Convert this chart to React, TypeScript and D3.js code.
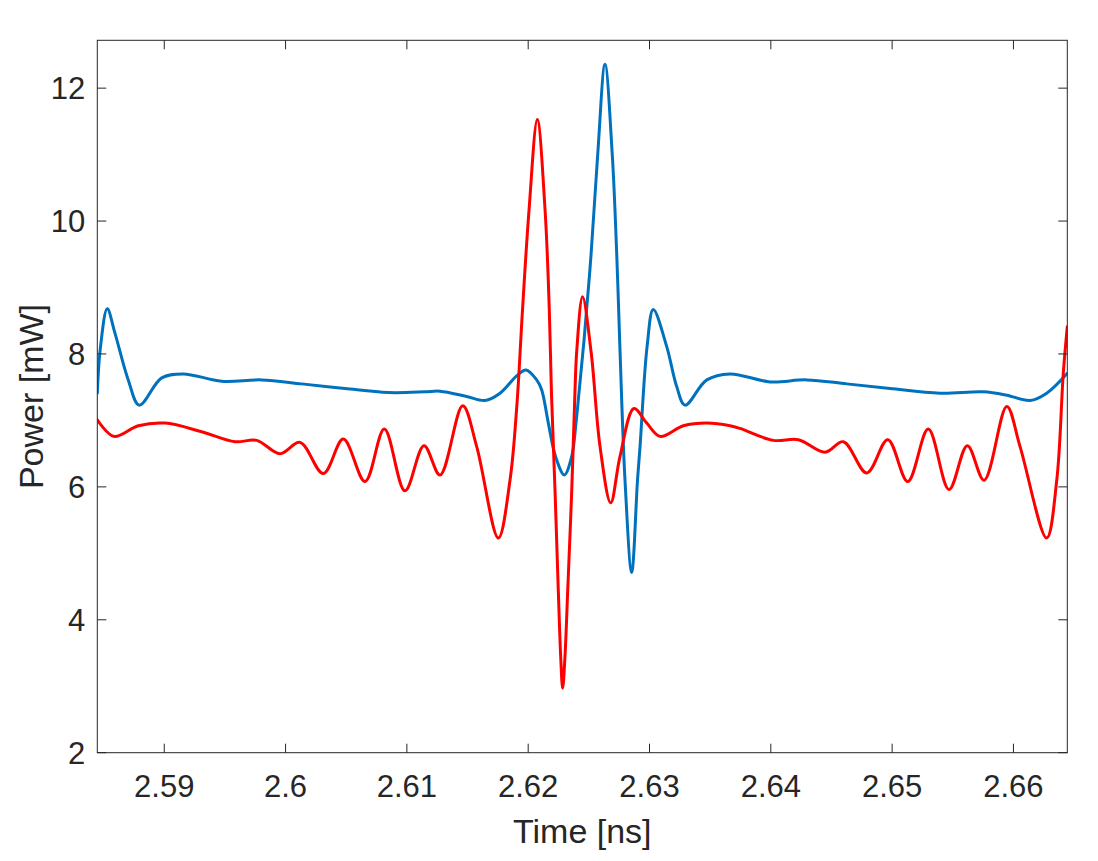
import * as d3 from 'd3';

// time axis [ns] and power [mW]
const timeDomain = [2.58448, 2.66444];
const powerDomain = [2, 12.72];
const timeTicks = [2.59, 2.6, 2.61, 2.62, 2.63, 2.64, 2.65, 2.66];
const powerTicks = [2, 4, 6, 8, 10, 12];

const blueT = [
  2.58448, 2.58474, 2.5853, 2.58594, 2.58703, 2.58794, 2.58979, 2.59157, 2.59473, 2.59803,
  2.60133, 2.6049, 2.60847, 2.61149, 2.61273, 2.61493, 2.61644, 2.61768, 2.61905, 2.61982,
  2.6207, 2.62111, 2.62166, 2.62225, 2.62298, 2.62359, 2.62394, 2.62421, 2.6246, 2.62518,
  2.62573, 2.62633, 2.62693, 2.6273, 2.62757, 2.62798, 2.62853, 2.62901, 2.62922, 2.6298,
  2.63031, 2.63142, 2.63224, 2.63293, 2.63472, 2.63664, 2.63993, 2.64296, 2.64626, 2.64983,
  2.65395, 2.65752, 2.65945, 2.66137, 2.66274, 2.66444,
];
const blueP = [
  7.41, 8.1, 8.68, 8.31, 7.61, 7.23, 7.64, 7.7, 7.59, 7.61,
  7.55, 7.48, 7.42, 7.43, 7.44, 7.36, 7.3, 7.41, 7.67, 7.76,
  7.61, 7.46, 6.96, 6.46, 6.18, 6.46, 6.96, 7.46, 8.2, 9.49,
  11.0, 12.36, 11.0, 9.49, 8.04, 6.1, 4.71, 6.1, 6.61, 8.11,
  8.67, 8.11, 7.51, 7.23, 7.61, 7.7, 7.58, 7.61, 7.55, 7.48,
  7.41, 7.43, 7.38, 7.3, 7.41, 7.71,
];

const redT = [
  2.58448, 2.58585, 2.58786, 2.59006, 2.59308, 2.59583, 2.59762, 2.59954, 2.60119, 2.60311,
  2.60476, 2.60655, 2.60814, 2.60984, 2.61141, 2.61273, 2.6146, 2.61575, 2.61754, 2.6185,
  2.61906, 2.61953, 2.62007, 2.62075, 2.62139, 2.62174, 2.62192, 2.62221, 2.62248, 2.62268,
  2.62284, 2.62303, 2.62326, 2.62359, 2.62386, 2.624, 2.62448, 2.62518, 2.62592, 2.6268,
  2.62757, 2.62872, 2.62977, 2.63087, 2.63279, 2.63472, 2.63664, 2.63746, 2.64021, 2.64227,
  2.64447, 2.64598, 2.64791, 2.64964, 2.65129, 2.65298, 2.65469, 2.6562, 2.65758, 2.65945,
  2.66054, 2.66274, 2.66357, 2.66411, 2.66444,
];
const redP = [
  7.01, 6.76, 6.92, 6.96, 6.83, 6.68, 6.7, 6.5, 6.67, 6.2,
  6.72, 6.08, 6.87, 5.94, 6.62, 6.18, 7.22, 6.61, 5.23, 6.1,
  7.21, 8.66, 10.17, 11.53, 10.17, 8.66, 7.4, 5.95, 4.45, 3.44,
  2.97, 3.44, 4.45, 5.95, 7.46, 8.04, 8.86, 8.04, 6.61, 5.76,
  6.46, 7.18, 6.96, 6.76, 6.92, 6.96, 6.92, 6.88, 6.7, 6.71,
  6.52, 6.68, 6.21, 6.71, 6.08, 6.87, 5.96, 6.62, 6.1, 7.21,
  6.61, 5.23, 6.1, 7.71, 8.41,
];

const W = 1098;
const H = 861;
const margin = { top: 40.3, right: 30.7, bottom: 108.3, left: 97.3 };
const ink = '#262626';
const font = '"Liberation Sans", Arial, Helvetica, sans-serif';

export default function App() {
  const x = d3.scaleLinear().domain(timeDomain).range([margin.left, W - margin.right]);
  const y = d3.scaleLinear().domain(powerDomain).range([H - margin.bottom, margin.top]);
  const [x0, x1] = x.range();
  const [y0, y1] = y.range();
  const tick = 9;

  const path = (ts: number[], ps: number[]) =>
    d3.line<[number, number]>()
      .x(d => x(d[0]))
      .y(d => y(d[1]))
      .curve(d3.curveCatmullRom.alpha(0.5))(ts.map((t, i) => [t, ps[i]])) ?? '';

  return (
    <svg width={W} height={H} style={{ position: 'absolute', left: 0, top: 0, background: '#fff' }}>
      <defs>
        <clipPath id="plot">
          <rect x={x0} y={y1} width={x1 - x0} height={y0 - y1} />
        </clipPath>
      </defs>
      <rect width={W} height={H} fill="#fff" />

      <g clipPath="url(#plot)" fill="none" strokeLinejoin="round" strokeLinecap="round">
        <path d={path(blueT, blueP)} stroke="#0072BD" strokeWidth={3} />
        <path d={path(redT, redP)} stroke="#FF0000" strokeWidth={3} />
      </g>

      {/* box and ticks */}
      <g stroke={ink} strokeWidth={1} fill="none">
        <rect x={x0} y={y1} width={x1 - x0} height={y0 - y1} />
        {timeTicks.map(t => (
          <g key={t}>
            <line x1={x(t)} x2={x(t)} y1={y0} y2={y0 - tick} />
            <line x1={x(t)} x2={x(t)} y1={y1} y2={y1 + tick} />
          </g>
        ))}
        {powerTicks.map(p => (
          <g key={p}>
            <line x1={x0} x2={x0 + tick} y1={y(p)} y2={y(p)} />
            <line x1={x1} x2={x1 - tick} y1={y(p)} y2={y(p)} />
          </g>
        ))}
      </g>

      <g fill={ink} fontFamily={font} fontSize={31}>
        {timeTicks.map(t => (
          <text key={t} x={x(t)} y={y0 + 44} textAnchor="middle">{d3.format('~g')(t)}</text>
        ))}
        {powerTicks.map(p => (
          <text key={p} x={x0 - 12} y={y(p) + 11} textAnchor="end">{p}</text>
        ))}
      </g>

      <text x={(x0 + x1) / 2} y={843} textAnchor="middle" fill={ink} fontFamily={font} fontSize={34}>
        Time [ns]
      </text>
      <text
        transform={`translate(43,${(y0 + y1) / 2}) rotate(-90)`}
        textAnchor="middle"
        fill={ink}
        fontFamily={font}
        fontSize={34}
      >
        Power [mW]
      </text>
    </svg>
  );
}
